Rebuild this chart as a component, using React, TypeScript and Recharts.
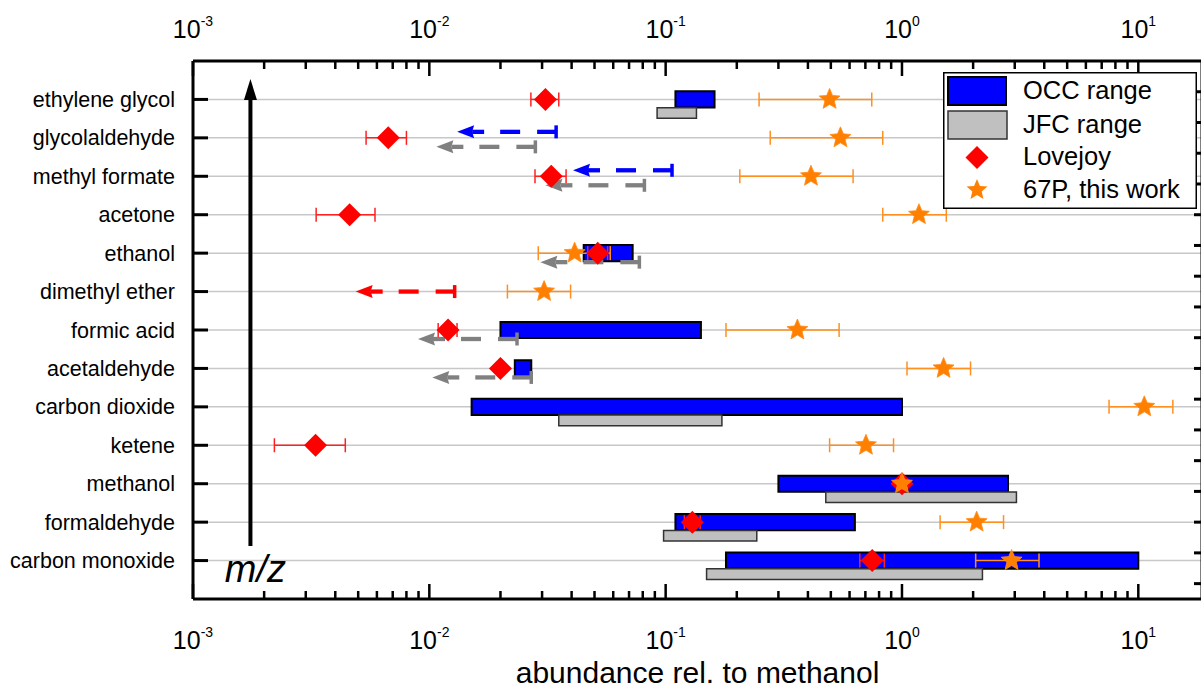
import React from 'react';
import {
  ScatterChart,
  Scatter,
  XAxis,
  YAxis,
  CartesianGrid,
  ErrorBar,
  ReferenceArea,
  ReferenceLine,
  Legend,
} from 'recharts';

const FONT = '"Liberation Sans", Arial, Helvetica, sans-serif';

// rows, top to bottom
const categories = [
  'ethylene glycol',
  'glycolaldehyde',
  'methyl formate',
  'acetone',
  'ethanol',
  'dimethyl ether',
  'formic acid',
  'acetaldehyde',
  'carbon dioxide',
  'ketene',
  'methanol',
  'formaldehyde',
  'carbon monoxide',
];

// Oort cloud comets range [min, max]
const occRange: ([number, number] | null)[] = [
  [0.11, 0.161],
  null,
  null,
  null,
  [0.045, 0.0725],
  null,
  [0.02, 0.141],
  [0.023, 0.027],
  [0.0151, 1.0],
  null,
  [0.3, 2.81],
  [0.11, 0.632],
  [0.18, 10.0],
];

// Jupiter family comets range [min, max]
const jfcRange: ([number, number] | null)[] = [
  [0.092, 0.135],
  null,
  null,
  null,
  null,
  null,
  null,
  null,
  [0.0353, 0.173],
  null,
  [0.476, 3.05],
  [0.098, 0.243],
  [0.149, 2.19],
];

// Lovejoy
const lovejoyValue = [0.031, 0.0067, 0.0328, 0.0046, 0.0516, null, 0.012, 0.02, null, 0.0033, 1.0, 0.1297, 0.748];
const lovejoyLow = [0.0269, 0.0054, 0.028, 0.00332, 0.0468, null, 0.0109, 0.02, null, 0.00221, 0.97, 0.12, 0.663];
const lovejoyHigh = [0.0353, 0.008, 0.0379, 0.00589, 0.0568, null, 0.0131, 0.02, null, 0.00441, 1.03, 0.14, 0.842];

// 67P, this work
const cometValue = [0.494, 0.549, 0.412, 1.18, 0.0412, 0.0306, 0.361, 1.5, 10.6, 0.704, 1.0, 2.07, 2.91];
const cometLow = [0.2485, 0.277, 0.206, 0.829, 0.0289, 0.0214, 0.18, 1.05, 7.52, 0.494, 1.0, 1.45, 2.05];
const cometHigh = [0.745, 0.829, 0.621, 1.54, 0.0583, 0.0396, 0.542, 1.95, 14.0, 0.921, 1.0, 2.69, 3.8];

// upper limits
const occUpperLimit = [null, 0.0344, 0.1064, null, null, null, null, null, null, null, null, null, null];
const jfcUpperLimit = [null, 0.0281, 0.0813, null, 0.0774, null, 0.0235, 0.027, null, null, null, null, null];
const lovejoyUpperLimit = [null, null, null, null, null, 0.0128, null, null, null, null, null, null, null];

const majorTicks = [0.001, 0.01, 0.1, 1, 10];
const majorTickLabels = ['-3', '-2', '-1', '0', '1'];
const minorTicks = [
  0.002, 0.003, 0.004, 0.005, 0.006, 0.007, 0.008, 0.009,
  0.02, 0.03, 0.04, 0.05, 0.06, 0.07, 0.08, 0.09,
  0.2, 0.3, 0.4, 0.5, 0.6, 0.7, 0.8, 0.9,
  2, 3, 4, 5, 6, 7, 8, 9,
];
const mzTicks = [0.5, 1.5, 2.5, 3.5, 4.5, 5.5, 6.5, 7.5, 8.5, 9.5, 10.5, 11.5, 12.5, 13.5, 14.5, 15.5, 16.5];

const X_DOMAIN: [number, number] = [0.001, 18.6];
const rowTicks = categories.map((_, i) => i + 1);

type Pt = { name: string; x: number; y: number; err?: [number, number] };

const measured = (values: (number | null)[], lows: (number | null)[], highs: (number | null)[]) => {
  const out: Pt[] = [];
  categories.forEach((name, i) => {
    const v = values[i];
    if (v == null) return;
    out.push({ name, x: v, y: i + 1, err: [v - (lows[i] as number), (highs[i] as number) - v] });
  });
  return out;
};

const limits = (values: (number | null)[]) => {
  const out: Pt[] = [];
  categories.forEach((name, i) => {
    const v = values[i];
    if (v == null) return;
    out.push({ name, x: v, y: i + 1 });
  });
  return out;
};

const lovejoyData = measured(lovejoyValue, lovejoyLow, lovejoyHigh);
const cometData = measured(cometValue, cometLow, cometHigh);
const occLimitData = limits(occUpperLimit);
const jfcLimitData = limits(jfcUpperLimit);
const lovejoyLimitData = limits(lovejoyUpperLimit);

const diamondPath = (cx: number, cy: number, r = 11.5) =>
  `${cx},${cy - r} ${cx + r},${cy} ${cx},${cy + r} ${cx - r},${cy}`;

const starPath = (cx: number, cy: number, R = 11, ratio = 0.45) => {
  const pts: string[] = [];
  for (let k = 0; k < 10; k++) {
    const r = k % 2 === 0 ? R : R * ratio;
    const a = -Math.PI / 2 + (k * Math.PI) / 5;
    pts.push(`${cx + r * Math.cos(a)},${cy + r * Math.sin(a)}`);
  }
  return pts.join(' ');
};

const Diamond = (props: any) => {
  const { cx, cy } = props;
  if (cx == null || cy == null) return null;
  return <polygon points={diamondPath(cx, cy)} fill="#ff0000" />;
};

const Star = (props: any) => {
  const { cx, cy } = props;
  if (cx == null || cy == null) return null;
  return <polygon points={starPath(cx, cy)} fill="#ff8000" stroke="#ff8c1a" strokeWidth={0.8} />;
};

const Nothing = () => <g />;

// dashed upper-limit arrow pointing to lower values
const limitArrow = (color: string, dy: number) => (props: any) => {
  const { cx, cy } = props;
  if (cx == null || cy == null) return null;
  const y = cy + dy;
  return (
    <g>
      <line x1={cx} y1={y - 6.5} x2={cx} y2={y + 6.5} stroke={color} strokeWidth={3.5} />
      <line x1={cx} y1={y} x2={cx - 19} y2={y} stroke={color} strokeWidth={4.3} />
      <line x1={cx - 36} y1={y} x2={cx - 56} y2={y} stroke={color} strokeWidth={4.3} />
      <line x1={cx - 72} y1={y} x2={cx - 84} y2={y} stroke={color} strokeWidth={4.3} />
      <polygon points={`${cx - 99},${y} ${cx - 82},${y - 6.5} ${cx - 84},${y} ${cx - 82},${y + 6.5}`} fill={color} />
    </g>
  );
};

const XTick = (top: boolean) => (props: any) => {
  const { x, y, payload } = props;
  const idx = majorTicks.indexOf(payload.value);
  const major = idx >= 0;
  const dir = top ? 1 : -1;
  const len = major ? 15 : 8;
  return (
    <g>
      <line x1={x} y1={y} x2={x} y2={y + dir * len} stroke="#000" strokeWidth={2.5} />
      {major && (
        <text x={x} y={top ? y - 23 : y + 50} textAnchor="middle" fontFamily={FONT} fontSize={25} fill="#000">
          10
          <tspan dy={-12} fontSize={14}>
            {majorTickLabels[idx]}
          </tspan>
        </text>
      )}
    </g>
  );
};

const CategoryTick = (props: any) => {
  const { x, y, payload } = props;
  return (
    <g>
      <line x1={x} y1={y} x2={x + 15} y2={y} stroke="#000" strokeWidth={3} />
      <text x={x - 18} y={y + 7.5} textAnchor="end" fontFamily={FONT} fontSize={21.5} fill="#000">
        {categories[payload.value - 1]}
      </text>
    </g>
  );
};

const MzTick = (props: any) => {
  const { x, y } = props;
  return <line x1={x} y1={y} x2={x - 8} y2={y} stroke="#000" strokeWidth={3} />;
};

const MzArrow = (props: any) => {
  const { x1, y1, y2 } = props;
  return (
    <g>
      <line x1={x1} y1={y1} x2={x1} y2={y2 + 15} stroke="#000" strokeWidth={4} />
      <polygon points={`${x1},${y2} ${x1 - 6.5},${y2 + 21} ${x1 + 6.5},${y2 + 21}`} fill="#000" />
      <text x={x1 + 5} y={y1 + 36} textAnchor="middle" fontFamily={FONT} fontStyle="italic" fontSize={38} fill="#000">
        m/z
      </text>
    </g>
  );
};

const LegendBox = () => (
  <svg width={254} height={137} style={{ display: 'block' }}>
    <rect x={0.75} y={0.75} width={252.5} height={135.5} fill="#fff" stroke="#000" strokeWidth={1.5} />
    <rect x={5} y={5} width={58} height={28} fill="#0000ff" stroke="#000" strokeWidth={2} />
    <rect x={5} y={39} width={59} height={28} fill="#c0c0c0" stroke="#333" strokeWidth={1.5} />
    <polygon points={diamondPath(34, 85.5)} fill="#ff0000" />
    <polygon points={starPath(34, 118)} fill="#ff8000" />
    <g fontFamily={FONT} fontSize={25.5} fill="#000">
      <text x={80} y={27}>OCC range</text>
      <text x={80} y={61}>JFC range</text>
      <text x={80} y={93}>Lovejoy</text>
      <text x={80} y={126}>67P, this work</text>
    </g>
  </svg>
);

const AxisTitle = (props: any) => {
  const { viewBox } = props;
  const cx = viewBox.x + viewBox.width / 2;
  return (
    <text x={cx} y={viewBox.y + 84} textAnchor="middle" fontFamily={FONT} fontSize={30} fill="#000">
      abundance rel. to methanol
    </text>
  );
};

const axisLine = { stroke: '#000', strokeWidth: 3 };

export default function App() {
  return (
    <div
      style={{
        position: 'fixed',
        left: 0,
        top: 0,
        width: 1201,
        height: 689,
        overflow: 'hidden',
        background: '#fff',
        fontFamily: FONT,
      }}
    >
      <ScatterChart width={1212} height={689} margin={{ top: 0, right: 0, bottom: 0, left: 0 }}>
        <CartesianGrid
          xAxisId="bottom"
          yAxisId="cat"
          vertical={false}
          stroke="#c8c8c8"
          strokeWidth={1.5}
        />
        <XAxis
          xAxisId="bottom"
          dataKey="x"
          type="number"
          scale="log"
          domain={X_DOMAIN}
          allowDataOverflow
          ticks={[...majorTicks, ...minorTicks]}
          interval={0}
          tickSize={0}
          tickMargin={0}
          tickLine={false}
          tick={XTick(false)}
          axisLine={axisLine}
          height={90}
          label={{ content: AxisTitle }}
        />
        <XAxis
          xAxisId="top"
          dataKey="x"
          orientation="top"
          type="number"
          scale="log"
          domain={X_DOMAIN}
          allowDataOverflow
          ticks={[...majorTicks, ...minorTicks]}
          interval={0}
          tickSize={0}
          tickMargin={0}
          tickLine={false}
          tick={XTick(true)}
          axisLine={axisLine}
          height={61}
        />
        <YAxis
          yAxisId="cat"
          dataKey="y"
          type="number"
          domain={[0, 14]}
          reversed
          allowDataOverflow
          ticks={rowTicks}
          interval={0}
          tickSize={0}
          tickMargin={0}
          tickLine={false}
          tick={CategoryTick}
          axisLine={axisLine}
          width={193}
        />
        <YAxis
          yAxisId="mz"
          dataKey="y"
          orientation="right"
          type="number"
          domain={[0, 17.5]}
          allowDataOverflow
          ticks={mzTicks}
          interval={0}
          tickSize={0}
          tickMargin={0}
          tickLine={false}
          tick={MzTick}
          axisLine={axisLine}
          width={10}
        />

        {/* invisible series so the top / right axes get a scale */}
        <Scatter
          xAxisId="top"
          yAxisId="mz"
          data={cometData}
          shape={Nothing}
          legendType="none"
          isAnimationActive={false}
        />

        {occRange.map((r, i) =>
          r ? (
            <ReferenceArea
              key={`occ-${i}`}
              xAxisId="bottom"
              yAxisId="cat"
              x1={r[0]}
              x2={r[1]}
              y1={i + 1 - 0.21}
              y2={i + 1 + 0.21}
              fill="#0000ff"
              fillOpacity={1}
              stroke="#000"
              strokeWidth={2}
              ifOverflow="visible"
            />
          ) : null
        )}
        {jfcRange.map((r, i) =>
          r ? (
            <ReferenceArea
              key={`jfc-${i}`}
              xAxisId="bottom"
              yAxisId="cat"
              x1={r[0]}
              x2={r[1]}
              y1={i + 1 + 0.215}
              y2={i + 1 + 0.49}
              fill="#c0c0c0"
              fillOpacity={1}
              stroke="#333"
              strokeWidth={1.5}
              ifOverflow="visible"
            />
          ) : null
        )}

        <ReferenceLine
          xAxisId="bottom"
          yAxisId="cat"
          segment={[
            { x: 0.00175, y: 12.62 },
            { x: 0.00175, y: 0.47 },
          ]}
          shape={MzArrow}
          ifOverflow="visible"
        />

        <Scatter
          name="OCC limit"
          xAxisId="bottom"
          yAxisId="cat"
          data={occLimitData}
          shape={limitArrow('#0000ff', -6)}
          isAnimationActive={false}
        />
        <Scatter
          name="JFC limit"
          xAxisId="bottom"
          yAxisId="cat"
          data={jfcLimitData}
          shape={limitArrow('#808080', 9)}
          isAnimationActive={false}
        />
        <Scatter
          name="Lovejoy limit"
          xAxisId="bottom"
          yAxisId="cat"
          data={lovejoyLimitData}
          shape={limitArrow('#ff0000', 0)}
          isAnimationActive={false}
        />
        <Scatter
          name="Lovejoy"
          xAxisId="bottom"
          yAxisId="cat"
          data={lovejoyData}
          shape={Diamond}
          isAnimationActive={false}
        >
          <ErrorBar dataKey="err" direction="x" width={7} stroke="#ff2020" strokeWidth={1.5} isAnimationActive={false} />
        </Scatter>
        <Scatter
          name="67P, this work"
          xAxisId="bottom"
          yAxisId="cat"
          data={cometData}
          shape={Star}
          isAnimationActive={false}
        >
          <ErrorBar dataKey="err" direction="x" width={7} stroke="#ff9020" strokeWidth={1.5} isAnimationActive={false} />
        </Scatter>

        <Legend
          layout="horizontal"
          verticalAlign="middle"
          align="center"
          content={() => <LegendBox />}
          wrapperStyle={{ position: 'absolute', left: 943, top: 72, width: 254, height: 137 }}
        />
      </ScatterChart>
    </div>
  );
}
